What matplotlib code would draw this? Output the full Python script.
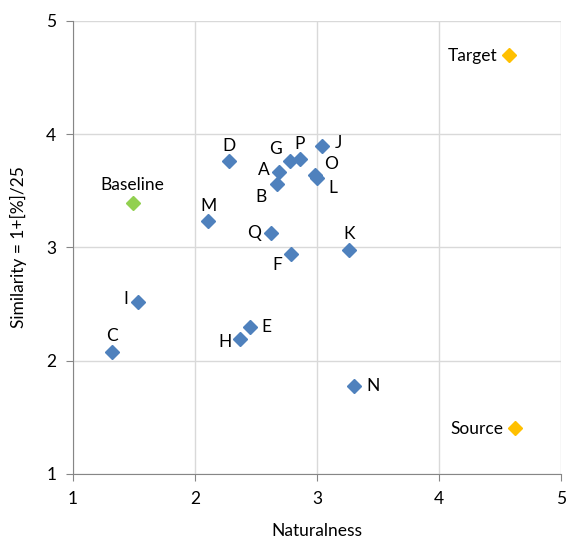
import matplotlib
matplotlib.use("Agg")
import matplotlib.pyplot as plt

plt.rcParams['font.family'] = ['Lato', 'DejaVu Sans']

# system scores: naturalness (x), similarity (y)
names = ['A', 'B', 'C', 'D', 'E', 'F', 'G', 'H', 'I', 'J', 'K', 'L', 'M', 'N', 'O', 'P', 'Q']
nat = [2.69, 2.67, 1.32, 2.28, 2.45, 2.79, 2.78, 2.37, 1.53, 3.04, 3.26, 3.00, 2.11, 3.30, 2.98, 2.86, 2.62]
sim = [3.67, 3.56, 2.08, 3.76, 2.30, 2.94, 3.76, 2.19, 2.52, 3.90, 2.98, 3.61, 3.23, 1.78, 3.64, 3.78, 3.13]

base_nat = [1.49]
base_sim = [3.39]
ref_names = ['Target', 'Source']
ref_nat = [4.57, 4.62]
ref_sim = [4.70, 1.41]

fs = 12.5

# label offsets in points (dx, dy, ha)
offs = {
    'A': (-7, 1, 'right'), 'B': (-7, -9, 'right'), 'C': (0, 11, 'center'),
    'D': (0, 11, 'center'), 'E': (8, 0, 'left'), 'F': (-7, -8, 'right'),
    'G': (-6, 9, 'right'), 'H': (-6, -2, 'right'), 'I': (-7, 2, 'right'),
    'J': (9, 2, 'left'), 'K': (0, 11, 'center'), 'L': (8, -7, 'left'),
    'M': (0, 11, 'center'), 'N': (9, 0, 'left'), 'O': (7, 8, 'left'),
    'P': (0, 11, 'center'), 'Q': (-7, 0, 'right'),
}

fig = plt.figure(figsize=(5.68, 5.44), dpi=100)
ax = fig.add_axes([0.1285, 0.1287, 0.8592, 0.8327])

ax.plot(nat, sim, 'D', color='#4F81BD', ms=7.5, zorder=3)
ax.plot(base_nat, base_sim, 'D', color='#92D050', ms=7.5, zorder=3)
ax.plot(ref_nat, ref_sim, 'D', color='#FFC000', ms=7.5, zorder=3)

for n, x, y in zip(names, nat, sim):
    dx, dy, ha = offs[n]
    ax.annotate(n, (x, y), xytext=(dx, dy), textcoords='offset points',
                ha=ha, va='center', fontsize=fs)
ax.annotate('Baseline', (base_nat[0], base_sim[0]), xytext=(0, 13),
            textcoords='offset points', ha='center', va='center', fontsize=fs)
for n, x, y in zip(ref_names, ref_nat, ref_sim):
    ax.annotate(n, (x, y), xytext=(-8, -1), textcoords='offset points',
                ha='right', va='center', fontsize=fs)

ax.set_xlim(1, 5)
ax.set_ylim(1, 5)
ax.set_xticks([1, 2, 3, 4, 5])
ax.set_yticks([1, 2, 3, 4, 5])
ax.grid(True, color='#D9D9D9', lw=1)
ax.set_axisbelow(True)
for s in ['top', 'right']:
    ax.spines[s].set_visible(False)
for s in ['left', 'bottom']:
    ax.spines[s].set_color('#868686')
ax.tick_params(colors='#868686', labelcolor='black', labelsize=fs, length=5, direction='out', pad=7)
ax.set_xlabel('Naturalness', fontsize=fs, labelpad=12)
ax.set_ylabel('Similarity = 1+[%]/25', fontsize=fs, labelpad=14)

fig.savefig('out.png', dpi=100)
